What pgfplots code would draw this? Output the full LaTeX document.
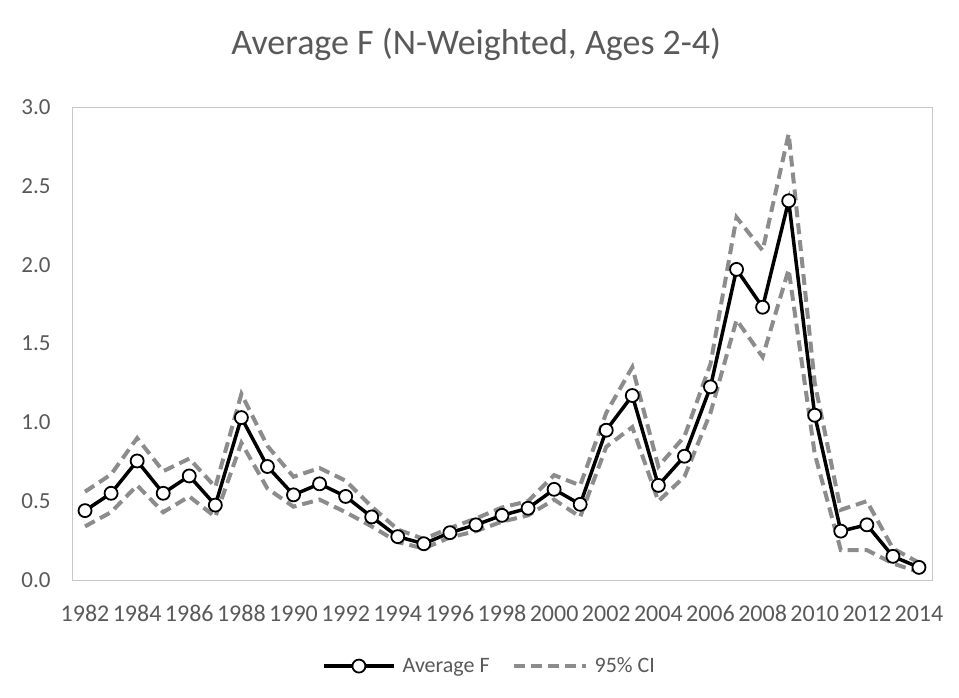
\documentclass[border=0pt]{standalone}
\usepackage{pgfplots}
\usepackage{pgfplotstable}
\pgfplotsset{compat=1.18}
\usepackage{fontspec}
\setmainfont{Carlito}
\definecolor{txt}{RGB}{89,89,89}
\definecolor{ci}{RGB}{140,140,140}
\definecolor{frame}{RGB}{200,200,200}
\pgfplotsset{
  avgleg/.style={legend image code/.code={\draw[mark repeat=2, mark phase=2, ##1] plot coordinates {(0bp,0bp) (35bp,0bp) (70bp,0bp)};}},
  cileg/.style={legend image code/.code={\draw[##1] (0bp,0bp) -- (72bp,0bp);}},
}
\pgfplotstableread{
year avg lo hi
1982 0.44 0.34 0.56
1983 0.55 0.43 0.67
1984 0.755 0.60 0.90
1985 0.55 0.43 0.69
1986 0.66 0.53 0.77
1987 0.475 0.40 0.59
1988 1.03 0.87 1.18
1989 0.72 0.58 0.85
1990 0.54 0.465 0.655
1991 0.61 0.51 0.71
1992 0.53 0.43 0.63
1993 0.40 0.34 0.465
1994 0.275 0.24 0.32
1995 0.23 0.20 0.26
1996 0.30 0.27 0.33
1997 0.35 0.31 0.39
1998 0.41 0.37 0.46
1999 0.455 0.41 0.50
2000 0.575 0.51 0.665
2001 0.48 0.40 0.60
2002 0.95 0.845 1.06
2003 1.17 0.97 1.35
2004 0.60 0.50 0.72
2005 0.785 0.655 0.91
2006 1.225 1.06 1.37
2007 1.97 1.65 2.30
2008 1.73 1.415 2.09
2009 2.405 1.97 2.83
2010 1.045 0.80 1.25
2011 0.31 0.19 0.445
2012 0.35 0.19 0.50
2013 0.15 0.105 0.20
2014 0.08 0.05 0.11
}\datatable
\begin{document}
\begin{tikzpicture}
\useasboundingbox (-72bp,-118bp) rectangle (887bp,580bp);
\begin{axis}[
  at={(0,0)}, anchor=south west,
  scale only axis, width=860bp, height=473bp,
  xmin=1981.5, xmax=2014.5, ymin=0, ymax=3,
  xtick={1982,1984,...,2014},
  ytick={0,0.5,...,3},
  major tick length=0pt,
  axis line style={draw=frame, line width=0.8bp},
  font=\fontsize{24bp}{28bp}\selectfont,
  tick label style={text=txt},
  x tick label style={/pgf/number format/1000 sep={}, anchor=base, yshift=-41bp},
  y tick label style={/pgf/number format/fixed, /pgf/number format/fixed zerofill, /pgf/number format/precision=1, anchor=east, xshift=-18bp, font=\fontsize{23bp}{27bp}\selectfont},
  /pgf/number format/assume math mode=true,
  title={Average F (N-Weighted, Ages 2-4)},
  title style={at={(axis description cs:0.470,1)}, anchor=base, yshift=47bp, text=txt, font=\fontsize{36bp}{40bp}\selectfont},
  legend style={at={(axis description cs:0.4855,-0.182)}, anchor=center, draw=none, fill=none, text=txt, font=\fontsize{22bp}{26bp}\selectfont, /tikz/every odd column/.append style={column sep=5bp}, /tikz/every even column/.append style={column sep=20bp}},
  legend columns=2,
  legend cell align=left,
  clip=false,
]
\addplot[ci, line width=4bp, dash pattern=on 11bp off 6bp, forget plot] table[x=year, y=lo] {\datatable};
\addplot[ci, line width=4bp, dash pattern=on 11bp off 6bp, forget plot] table[x=year, y=hi] {\datatable};
\addplot[black, line width=3.5bp, mark=*, mark size=6.5bp, mark options={fill=white, draw=black, line width=1.8bp, solid}, avgleg] table[x=year, y=avg] {\datatable};
\addlegendentry{Average F}
\addlegendimage{ci, line width=4bp, dash pattern=on 11bp off 6bp, cileg}
\addlegendentry{95\% CI}
\end{axis}
\end{tikzpicture}
\end{document}
